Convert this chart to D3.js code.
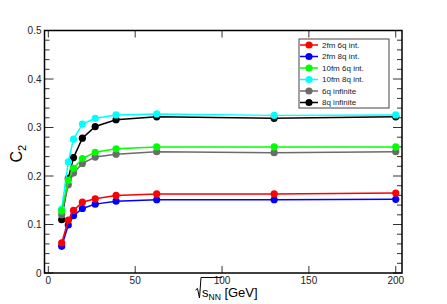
<!DOCTYPE html>
<html>
<head>
<meta charset="utf-8">
<script src="https://cdn.jsdelivr.net/npm/d3@7"></script>
<style>
  body { margin: 0; background: #fff; }
  svg { display: block; font-family: "Liberation Sans", Arial, sans-serif; }
</style>
</head>
<body>
<div class="content"></div>
<script>
//--> Data
const energies = [7.7, 11.5, 14.5, 19.6, 27, 39, 62.4, 130, 200];
const seriesNames = ["2fm 6q int.", "2fm 8q int.", "10fm 6q int.", "10fm 8q int.", "6q infinite", "8q infinite"];
const seriesColors = ["#ff0000", "#0000ff", "#00ff00", "#00ffff", "#6b6b6b", "#000000"];
const red2fm6q = [0.062, 0.109, 0.129, 0.146, 0.153, 0.160, 0.163, 0.163, 0.165];
const blue2fm8q = [0.055, 0.099, 0.118, 0.133, 0.142, 0.148, 0.151, 0.151, 0.152];
const green10fm6q = [0.128, 0.191, 0.216, 0.236, 0.249, 0.256, 0.260, 0.260, 0.260];
const cyan10fm8q = [0.132, 0.229, 0.276, 0.307, 0.319, 0.326, 0.328, 0.325, 0.326];
const gray6qInf = [0.120, 0.182, 0.206, 0.226, 0.239, 0.245, 0.250, 0.248, 0.250];
const black8qInf = [0.110, 0.195, 0.238, 0.278, 0.302, 0.316, 0.322, 0.319, 0.322];
const xTicks = [0, 50, 100, 150, 200];
const yTicks = [0, 0.1, 0.2, 0.3, 0.4, 0.5];

const seriesValues = [red2fm6q, blue2fm8q, green10fm6q, cyan10fm8q, gray6qInf, black8qInf];

//--> Constants
const width = 447;
const height = 304;
const margin = { top: 30.5, right: 45, bottom: 31, left: 44.5 };
const plotW = width - margin.left - margin.right;
const plotH = height - margin.top - margin.bottom;

const svg = d3.select(".content").append("svg")
  .attr("width", width)
  .attr("height", height);

const graph = svg.append("g")
  .attr("transform", `translate(${margin.left}, ${margin.top})`);

const x = d3.scaleLinear().domain([-2.2, 203.6]).range([0, plotW]);
const y = d3.scaleLinear().domain([0, 0.5]).range([plotH, 0]);

//--> Ticks (inward on all four sides)
const tickColor = "#333";
const yMinor = d3.range(0, 0.5001, 0.02);
yMinor.forEach(v => {
  const major = Math.abs(v * 10 - Math.round(v * 10)) < 1e-6;
  const len = major ? 9 : 5;
  graph.append("line").attr("x1", 0).attr("x2", len)
    .attr("y1", y(v)).attr("y2", y(v)).attr("stroke", tickColor).attr("stroke-width", 1);
  graph.append("line").attr("x1", plotW).attr("x2", plotW - len)
    .attr("y1", y(v)).attr("y2", y(v)).attr("stroke", tickColor).attr("stroke-width", 1);
});
xTicks.forEach(v => {
  graph.append("line").attr("x1", x(v)).attr("x2", x(v))
    .attr("y1", plotH).attr("y2", plotH - 7).attr("stroke", tickColor);
  graph.append("line").attr("x1", x(v)).attr("x2", x(v))
    .attr("y1", 0).attr("y2", 7).attr("stroke", tickColor);
});

//--> Tick labels
graph.selectAll(".ylab").data(yTicks).enter().append("text")
  .attr("x", -3).attr("y", d => y(d))
  .attr("dy", "0.35em").attr("text-anchor", "end")
  .attr("font-size", "10px").attr("fill", "#222")
  .text(d => d === 0 ? "0" : d3.format(".1f")(d));

graph.selectAll(".xlab").data(xTicks).enter().append("text")
  .attr("x", d => x(d)).attr("y", plotH + 11)
  .attr("text-anchor", "middle")
  .attr("font-size", "10px").attr("fill", "#222")
  .text(d => d);

//--> Series (drawn in reverse so red sits on top)
const line = d3.line().x((d, i) => x(energies[i])).y(d => y(d));
const order = [5, 4, 3, 2, 1, 0];
order.forEach(k => {
  const g = graph.append("g");
  g.append("path").datum(seriesValues[k])
    .attr("d", line).attr("fill", "none")
    .attr("stroke", seriesColors[k]).attr("stroke-width", 1.5);
  g.selectAll("circle").data(seriesValues[k]).enter().append("circle")
    .attr("cx", (d, i) => x(energies[i])).attr("cy", d => y(d))
    .attr("r", 3.6).attr("fill", seriesColors[k]);
});

//--> Frame
graph.append("rect").attr("width", plotW).attr("height", plotH)
  .attr("fill", "none").attr("stroke", "#000").attr("stroke-width", 1.5);

//--> Legend
const legend = svg.append("g").attr("transform", "translate(299, 39)");
legend.append("rect").attr("width", 90).attr("height", 69)
  .attr("fill", "#fff").attr("stroke", "#444").attr("stroke-width", 1);
seriesNames.forEach((name, i) => {
  const ly = 6 + i * 11.5;
  legend.append("line").attr("x1", 1).attr("x2", 19).attr("y1", ly).attr("y2", ly)
    .attr("stroke", seriesColors[i]).attr("stroke-width", 1.5);
  legend.append("circle").attr("cx", 10).attr("cy", ly).attr("r", 3.6).attr("fill", seriesColors[i]);
  legend.append("text").attr("x", 23).attr("y", ly).attr("dy", "0.35em")
    .attr("font-size", "8px").attr("fill", "#222").text(name);
});

//--> Axis titles
svg.append("text")
  .attr("transform", `translate(21.5, ${margin.top + plotH / 2 + 2}) rotate(-90)`)
  .attr("text-anchor", "middle").attr("font-size", "16px")
  .html('C<tspan font-size="11px" dy="4">2</tspan>');

// x title: radical drawn as a path, then s_NN [GeV]
const xt = svg.append("text")
  .attr("x", 202).attr("y", 297)
  .attr("font-size", "13px");
const sPart = xt.append("tspan").text("s");
const nnPart = xt.append("tspan").attr("font-size", "8.5px").attr("dy", 2.5).text("NN");
xt.append("tspan").attr("dy", -2.5).text(" [GeV]");

const radW = sPart.node().getComputedTextLength() + nnPart.node().getComputedTextLength();
svg.append("path")
  .attr("d", `M195.5,290 L197.5,288.5 L199.5,298 L201,277.5 L${202 + radW + 1},277.5`)
  .attr("fill", "none").attr("stroke", "#000").attr("stroke-width", 1);
</script>
</body>
</html>
